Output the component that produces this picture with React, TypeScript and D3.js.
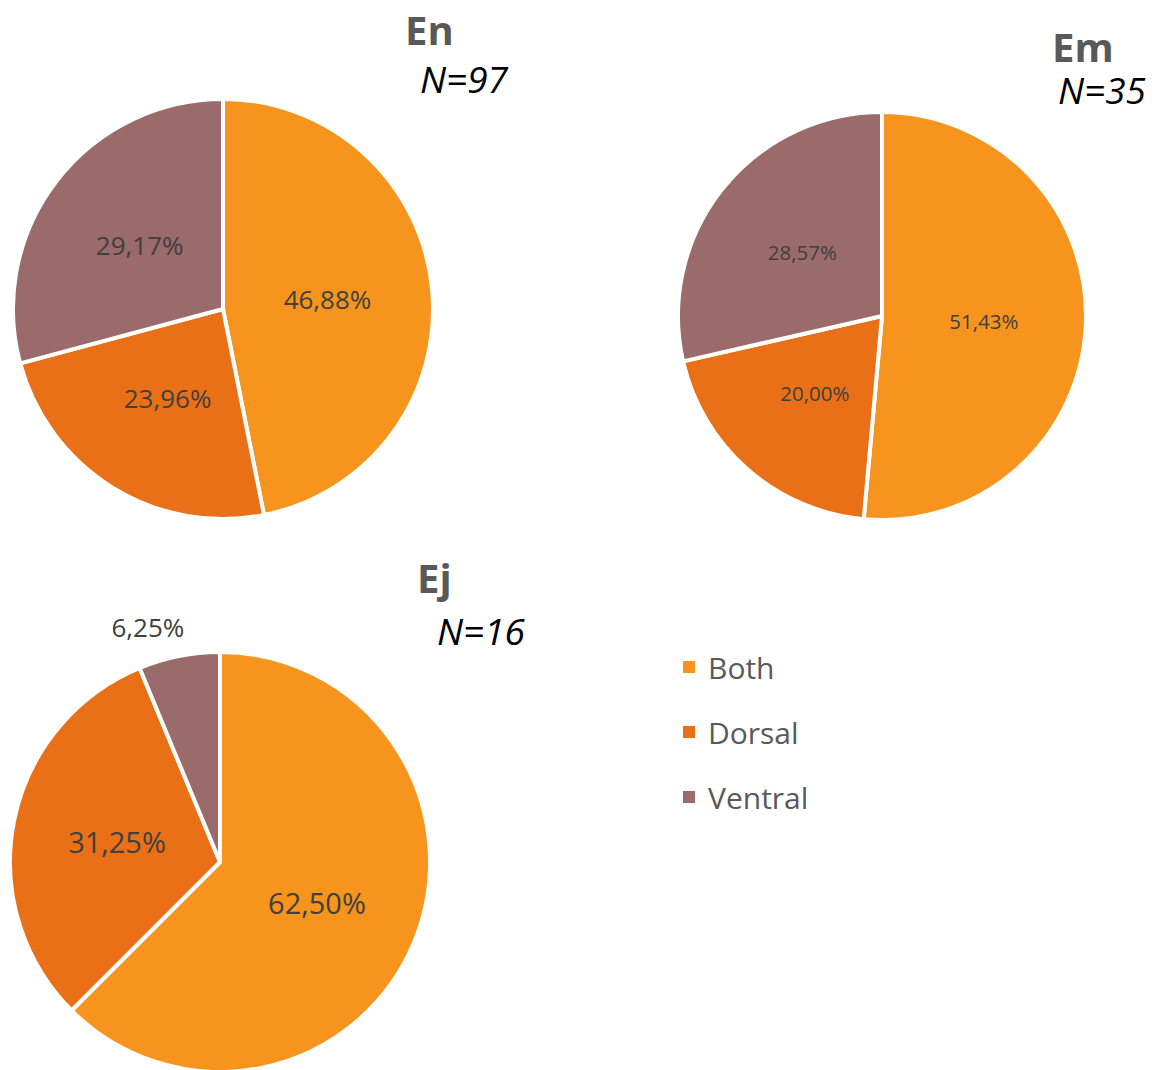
import * as d3 from "d3";

const categories = ["Both", "Dorsal", "Ventral"];
const colors = ["#F7941D", "#EA7017", "#9B6A6A"];

const titles = ["En", "Em", "Ej"];
const counts = ["N=97", "N=35", "N=16"];

const enValues = [46.88, 23.96, 29.17];
const emValues = [51.43, 20.0, 28.57];
const ejValues = [62.5, 31.25, 6.25];

// layout for each pie (position, radius, label size, title anchor)
const pies = [
  { values: enValues, cx: 223, cy: 309, r: 210, fs: 26, tx: 405, ty: 45, nx: 420, ny: 93 },
  { values: emValues, cx: 882, cy: 316, r: 204, fs: 20.5, tx: 1052, ty: 62, nx: 1058, ny: 104 },
  { values: ejValues, cx: 220, cy: 862, r: 210, fs: 29, tx: 417, ty: 593, nx: 437, ny: 645 },
];

const FONT = "'Open Sans', 'Noto Sans', sans-serif";
const fmt = (v: number) => v.toFixed(2).replace(".", ",") + "%";

const pieGen = d3
  .pie<number>()
  .sort(null)
  .startAngle(0)
  .endAngle(2 * Math.PI);

const Pie = ({ p, i }: { p: (typeof pies)[number]; i: number }) => {
  const arcs = pieGen(p.values);
  const arc = d3.arc<d3.PieArcDatum<number>>().innerRadius(0).outerRadius(p.r);
  return (
    <g>
      <g transform={`translate(${p.cx},${p.cy})`}>
        {arcs.map((a, j) => (
          <path
            key={j}
            d={arc(a) || ""}
            fill={colors[j]}
            stroke="#fff"
            strokeWidth={4}
            strokeLinejoin="round"
          />
        ))}
        {arcs.map((a, j) => {
          if (a.value < 10) {
            // small slice: label goes outside, like Excel's best fit
            const mid = (a.startAngle + a.endAngle) / 2;
            const rr = p.r + 14;
            const x = Math.sin(mid) * rr;
            const y = -Math.cos(mid) * rr;
            return (
              <text
                key={"l" + j}
                x={x + 8}
                y={y - 5}
                textAnchor="end"
                fontSize={26}
                fill="#404040"
                fontFamily={FONT}
              >
                {fmt(a.value)}
              </text>
            );
          }
          const [x, y] = arc.centroid(a);
          return (
            <text
              key={"l" + j}
              x={x}
              y={y}
              textAnchor="middle"
              dominantBaseline="central"
              fontSize={p.fs}
              fill="#404040"
              fontFamily={FONT}
            >
              {fmt(a.value)}
            </text>
          );
        })}
      </g>
      <text
        x={p.tx}
        y={p.ty}
        fontSize={40}
        fontWeight="bold"
        fill="#595959"
        fontFamily={FONT}
      >
        {titles[i]}
      </text>
      <text
        x={p.nx}
        y={p.ny}
        fontSize={37}
        fontStyle="italic"
        fill="#000"
        fontFamily={FONT}
      >
        {counts[i]}
      </text>
    </g>
  );
};

export default function App() {
  const legendY = d3.scalePoint<string>().domain(categories).range([667, 797]);
  return (
    <svg
      width={1157}
      height={1070}
      style={{ position: "absolute", left: 0, top: 0 }}
    >
      <rect width={1157} height={1070} fill="#fff" />
      {pies.map((p, i) => (
        <Pie key={i} p={p} i={i} />
      ))}
      <g>
        {categories.map((c, j) => (
          <g key={c} transform={`translate(683,${legendY(c)})`}>
            <rect x={0} y={-6} width={12} height={12} fill={colors[j]} />
            <text
              x={25}
              y={0}
              dominantBaseline="central"
              fontSize={30}
              fill="#595959"
              fontFamily={FONT}
            >
              {c}
            </text>
          </g>
        ))}
      </g>
    </svg>
  );
}
